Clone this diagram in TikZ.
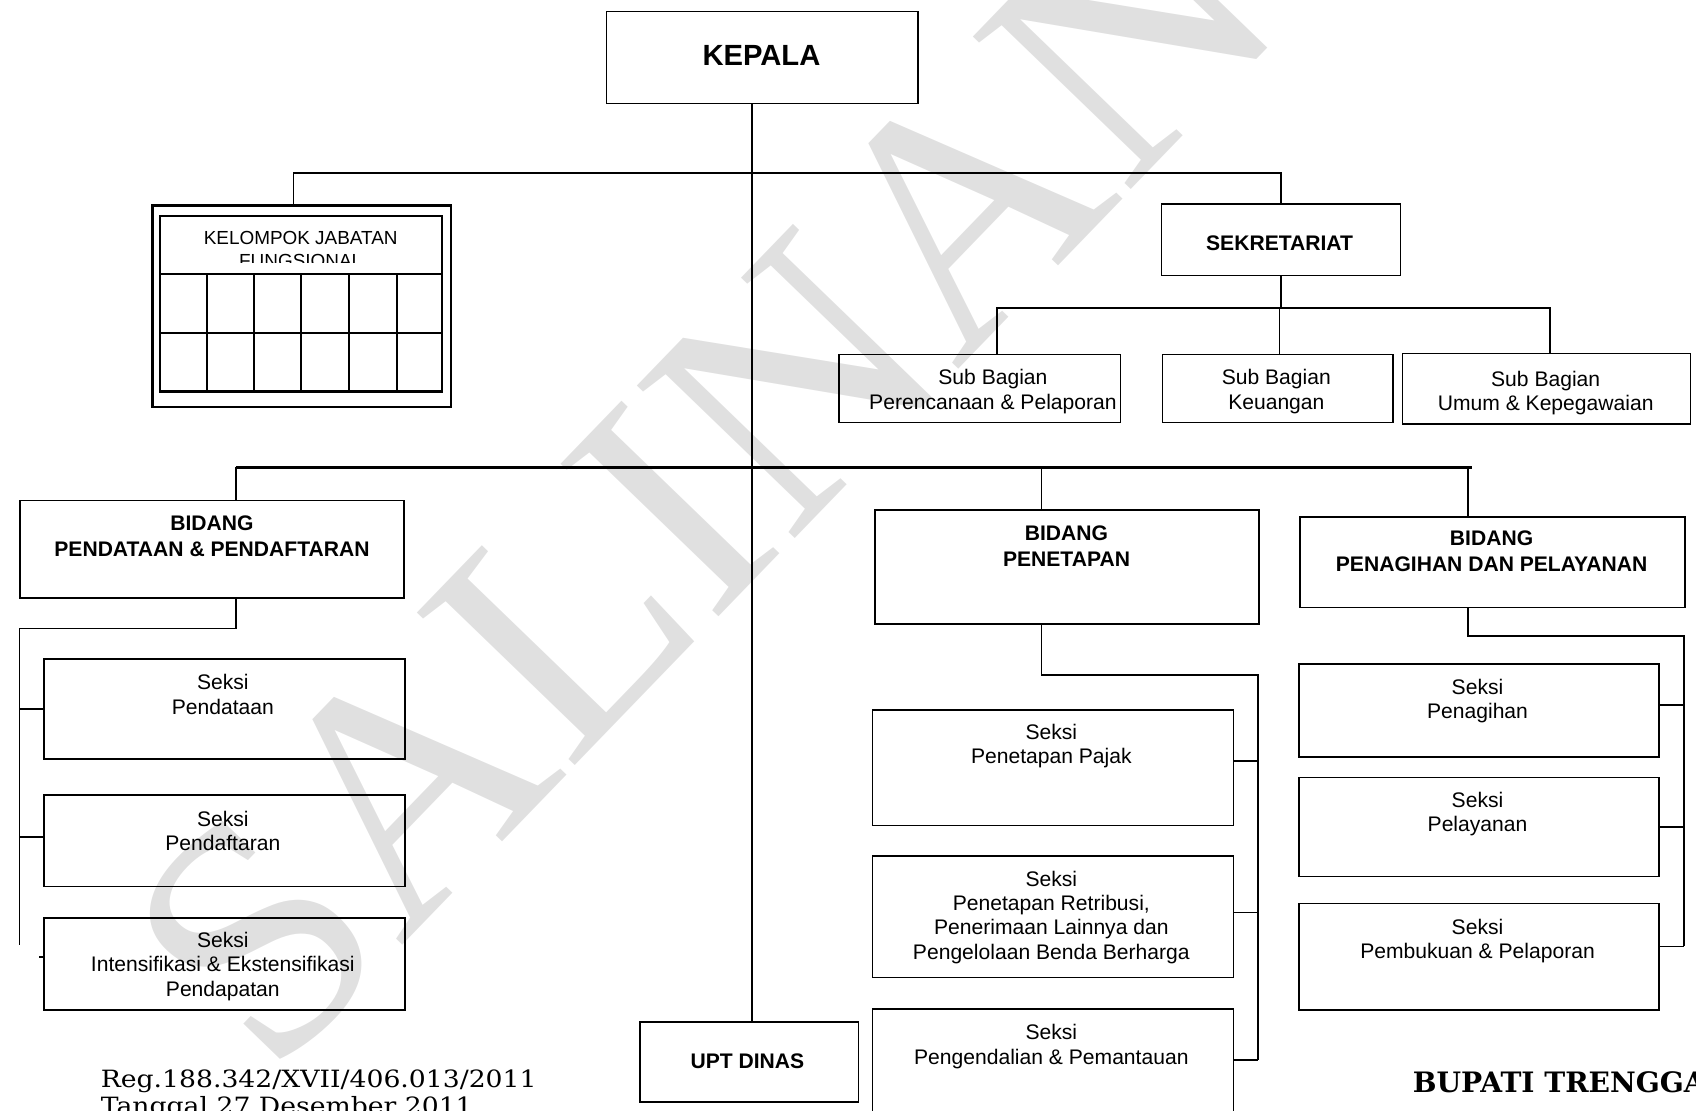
\documentclass[tikz,border=0pt]{standalone}
\usepackage{fontspec}
\setmainfont{Liberation Sans}
\newfontfamily\regfont[FakeStretch=1.12]{DejaVu Serif}
\newfontfamily\signfont{DejaVu Serif}
\newfontfamily\markfont{Liberation Serif}
% rectangle node from its top-left and bottom-right corners
\newcommand{\orgbox}[6][]{\node[box,#1, minimum width={#5-#3}, minimum height={#6-#4}] (#2) at (#3,#4) {};}
\begin{document}
\begin{tikzpicture}[x=1pt,y=-1pt,
  box/.style={draw, line width=1.5pt, inner sep=0pt, anchor=north west},
  txt/.style={inner sep=0pt, align=center, font=\fontsize{19.5}{22.5}\selectfont},
  btxt/.style={inner sep=0pt, align=center, font=\fontsize{19.5}{24}\selectfont\bfseries},
  wire/.style={line width=1.5pt},
  bus/.style={line width=2.4pt},
  cell/.style={line width=2pt},
]
\useasboundingbox (0,0) rectangle (1568,1027);
\clip (0,0) rectangle (1568,1027);

% stamp across the sheet
\node[font=\markfont\fontsize{310}{310}\selectfont, text=black!12, rotate=46, inner sep=0pt] (stamp) at (650,440) {SALINAN};

% ---------- boxes ----------
\orgbox{kepala}{560}{10}{848}{95}
\orgbox[line width=2pt]{kjf}{140}{189}{416}{375}
\orgbox{sekr}{1073}{188}{1294}{254}
\orgbox{sb1}{775}{327}{1035}{390}
\orgbox{sb2}{1074}{327}{1287}{390}
\orgbox{sb3}{1296}{326}{1562}{391}
\orgbox{bd1}{18}{462}{373}{552}
\orgbox{bd2}{808}{471}{1163}{576}
\orgbox{bd3}{1201}{477}{1557}{561}
\orgbox{s11}{40}{608.5}{373.5}{701}
\orgbox{s12}{40}{734.5}{373.5}{819}
\orgbox{s13}{40}{848}{373.5}{933}
\orgbox{s21}{806}{655.5}{1139.5}{762.5}
\orgbox{s22}{806}{790.5}{1139.5}{903}
\orgbox{s23}{806}{932}{1139.5}{1040}
\orgbox{s31}{1200}{613}{1533}{699}
\orgbox{s32}{1200}{718}{1533}{809.5}
\orgbox{s33}{1200}{834.5}{1533}{933}
\orgbox{upt}{591}{944}{793}{1018}

% functional group table
\draw[cell] (148,199.5) rectangle (409,362);
\draw[cell] (148,253) -- (409,253) (148,308) -- (409,308);
\foreach \cx in {191,235,278,323,367} \draw[cell] (\cx,253) -- (\cx,362);
\begin{scope}
  \clip (149,200) rectangle (408,243);
  \node[inner sep=0pt, anchor=base, font=\fontsize{17.5}{21}\selectfont] (kjfa) at (278,226) {KELOMPOK JABATAN};
  \node[inner sep=0pt, anchor=base, font=\fontsize{17.5}{21}\selectfont] (kjfb) at (278,247.5) {FUNGSIONAL};
\end{scope}

% ---------- labels ----------
\node[inner sep=0pt, font=\fontsize{27}{30}\selectfont\bfseries] (kepalat) at (704,51) {KEPALA};
\node[btxt] (sekrt) at (1183,225) {SEKRETARIAT};
\node[txt] (sb1t) at (918,362) {Sub Bagian\\Perencanaan \& Pelaporan};
\node[txt] (sb2t) at (1180,362) {Sub Bagian\\Keuangan};
\node[txt] (sb3t) at (1429,363.5) {Sub Bagian\\Umum \& Kepegawaian};
\node[btxt] (bd1t) at (196,496) {BIDANG\\PENDATAAN \& PENDAFTARAN};
\node[btxt] (bd2t) at (986,505) {BIDANG\\PENETAPAN};
\node[btxt] (bd3t) at (1379,510) {BIDANG\\PENAGIHAN DAN PELAYANAN};
\node[txt] (s11t) at (206,642) {Seksi\\Pendataan};
\node[txt] (s12t) at (206,768) {Seksi\\Pendaftaran};
\node[txt] (s13t) at (206,893.5) {Seksi\\Intensifikasi \& Ekstensifikasi\\Pendapatan};
\node[txt] (s21t) at (972,690) {Seksi\\Penetapan Pajak};
\node[txt] (s22t) at (972,848) {Seksi\\Penetapan Retribusi,\\Penerimaan Lainnya dan\\Pengelolaan Benda Berharga};
\node[txt] (s23t) at (972,967.5) {Seksi\\Pengendalian \& Pemantauan};
\node[txt] (s31t) at (1366,648) {Seksi\\Penagihan};
\node[txt] (s32t) at (1366,752.5) {Seksi\\Pelayanan};
\node[txt] (s33t) at (1366,870) {Seksi\\Pembukuan \& Pelaporan};
\node[btxt] (uptt) at (691,981) {UPT DINAS};

% ---------- connector anchors ----------
\coordinate (trunk) at (695,0);
\coordinate (busone) at (0,160);
\coordinate (kjfdrop) at (271.5,0);
\coordinate (bustwo) at (0,285);
\coordinate (sbdropa) at (922,0);
\coordinate (sbdropb) at (1183,0);
\coordinate (sbdropc) at (1433,0);
\coordinate (busthree) at (0,432);
\coordinate (busend) at (1361,432);
\coordinate (bddropa) at (218,0);
\coordinate (bddropb) at (963,0);
\coordinate (bddropc) at (1357,0);
\coordinate (railone) at (18,581);
\coordinate (railoneend) at (18,874);
\coordinate (railtwo) at (1163,624);
\coordinate (railtwoend) at (1163,980);
\coordinate (railthree) at (1557,588);
\coordinate (railthreeend) at (1557,875);

% ---------- connectors ----------
\draw[wire] (kepala.south -| trunk) -- (upt.north -| trunk);
\draw[wire] (kjf.north -| kjfdrop) |- (busone -| sekr.north) -- (sekr.north);
\draw[wire] (sekr.south) -- (sekr.south |- bustwo);
\draw[wire] (sb1.north -| sbdropa) |- (bustwo -| sbdropc) -- (sb3.north -| sbdropc);
\draw[wire] (sb2.north -| sbdropb) -- (bustwo -| sbdropb);

\draw[bus] (busthree -| bddropa) -- (busend);
\draw[wire] (busthree -| bddropa) -- (bd1.north -| bddropa);
\draw[wire] (busthree -| bddropb) -- (bd2.north -| bddropb);
\draw[wire] (busthree -| bddropc) -- (bd3.north -| bddropc);

% first division
\draw[wire] (bd1.south -| bddropa) |- (railone) -- (railoneend);
\draw[wire] (s11.west) -- (s11.west -| railone);
\draw[wire] ([yshift=3.5pt]s12.west) -- ([yshift=3.5pt]s12.west -| railone);
\draw[wire] ([yshift=6.5pt]s13.west) -- ++(-4,0);

% second division
\draw[wire] (bd2.south -| bddropb) |- (railtwo) -- (railtwoend);
\draw[wire] ([yshift=6pt]s21.east) -- ([yshift=6pt]s21.east -| railtwo);
\draw[wire] ([yshift=4pt]s22.east) -- ([yshift=4pt]s22.east -| railtwo);
\draw[wire] (s23.east |- railtwoend) -- (railtwoend);

% third division
\draw[wire] (bd3.south -| bddropc) |- (railthree) -- (railthreeend);
\draw[wire] ([yshift=5pt]s31.east) -- ([yshift=5pt]s31.east -| railthree);
\draw[wire] (s32.east) -- (s32.east -| railthree);
\draw[wire] (s33.east |- railthreeend) -- (railthreeend);

% ---------- footer ----------
\node[inner sep=0pt, anchor=base west, font=\regfont\fontsize{22}{26}\selectfont] (reg) at (93,1005) {Reg.188.342/XVII/406.013/2011};
\node[inner sep=0pt, anchor=base west, font=\regfont\fontsize{22}{26}\selectfont] (tgl) at (93,1030) {Tanggal 27 Desember 2011};
\node[inner sep=0pt, anchor=base west, font=\signfont\bfseries\fontsize{26}{30}\selectfont] (bupati) at (1306,1010) {BUPATI TRENGGALEK,};
\end{tikzpicture}
\end{document}
